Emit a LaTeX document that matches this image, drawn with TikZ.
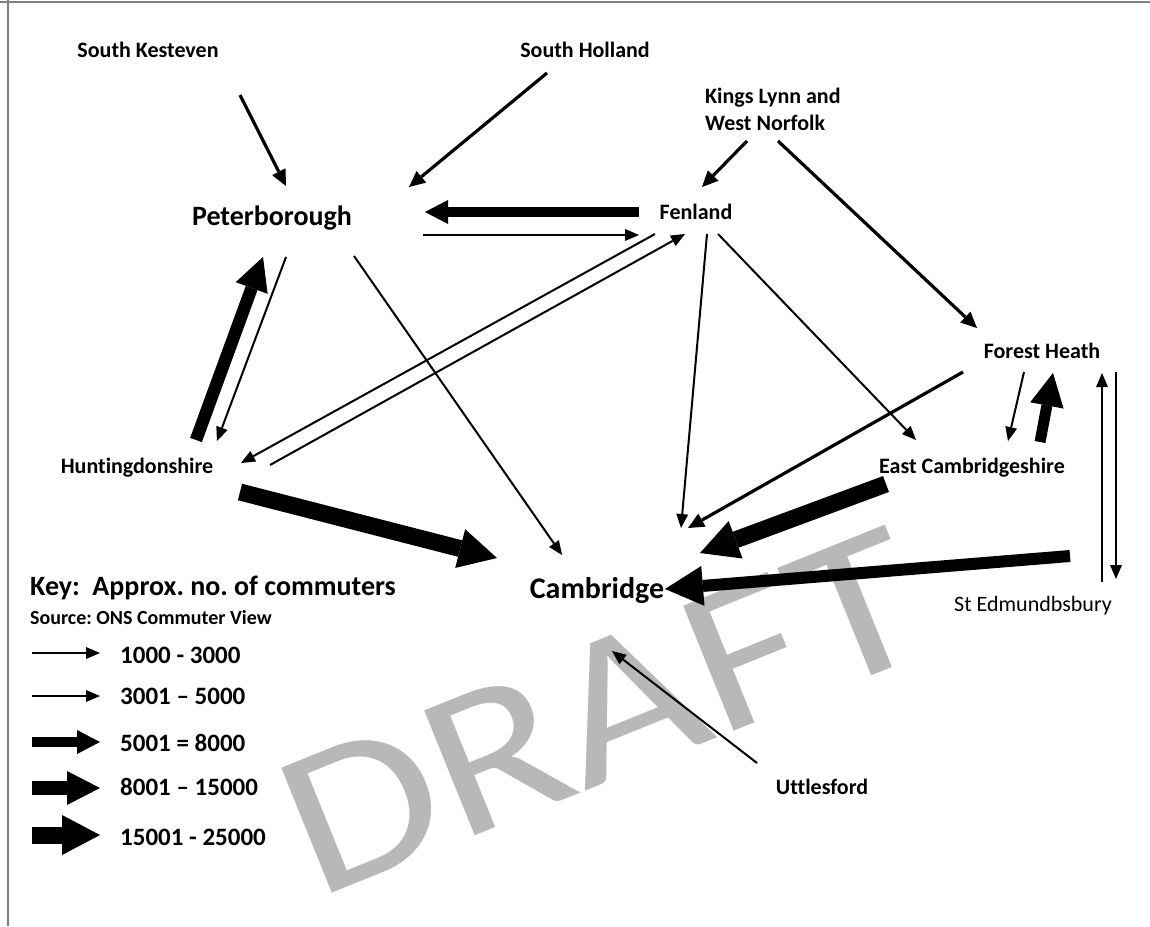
\documentclass[tikz,border=0pt]{standalone}
\usepackage{fontspec}
\setmainfont{Carlito}[Ligatures=NoCommon]
\usetikzlibrary{arrows.meta,calc}
\definecolor{framegray}{RGB}{128,128,128}
\definecolor{markgray}{RGB}{184,184,184}
\frenchspacing
\tikzset{
  place/.style={inner sep=0pt, anchor=base, font=\bfseries\fontsize{22}{27}\selectfont},
  town/.style={inner sep=0pt, anchor=base, font=\bfseries\fontsize{28}{33}\selectfont},
  keyhead/.style={inner sep=0pt, anchor=base west, font=\bfseries\fontsize{28}{33}\selectfont},
  keysrc/.style={inner sep=0pt, anchor=base west, font=\bfseries\fontsize{20}{24}\selectfont},
  keyrange/.style={inner sep=0pt, anchor=base west, font=\bfseries\fontsize{25}{30}\selectfont},
  % commuter flow bands
  flowA/.style={line width=2pt, -{Triangle[length=14pt,width=12pt,line width=0pt]}},
  flowB/.style={line width=3.2pt, -{Triangle[length=16pt,width=15pt,line width=0pt]}},
  flowC/.style={line width=9.5pt, -{Triangle[length=23pt,width=24pt,line width=0pt]}},
  flowD/.style={line width=14pt, -{Triangle[length=33pt,width=34pt,line width=0pt]}},
  flowE/.style={line width=17pt, -{Triangle[length=38pt,width=40pt,line width=0pt]}},
  draftmark/.style={inner sep=0pt, text=markgray, font=\fontsize{210}{250}\selectfont},
}
\begin{document}
\begin{tikzpicture}[x=1pt,y=-1pt]
\useasboundingbox (0,0) rectangle (1150,926);
\fill[white] (0,0) rectangle (1150,926);

% watermark
\node[draftmark, rotate=22, xscale=1.19, anchor=base west] (draft) at (316,900) {DRAFT};

% page frame
\draw[framegray, line width=2pt] (0,1.5) -- (1150,1.5);
\draw[framegray, line width=2pt] (8,0) -- (8,926);

% districts
\node[place] (sk) at (148,57) {South Kesteven};
\node[place] (sh) at (585,57) {South Holland};
\node[place, anchor=north west, align=left] (kl) at (705,88) {Kings Lynn and\\West Norfolk};
\node[town] (pet) at (272,225) {Peterborough};
\node[place] (fen) at (696,219) {Fenland};
\node[place] (fh) at (1042,358) {Forest Heath};
\node[place] (ec) at (972,473) {East Cambridgeshire};
\node[place] (hun) at (137,473) {Huntingdonshire};
\node[town, font=\bfseries\fontsize{30}{35}\selectfont] (cam) at (597,598) {Cambridge};
\node[place, font=\fontsize{22}{27}\selectfont] (ste) at (1033,611) {St Edmundbsbury};
\node[place] (utt) at (822,794) {Uttlesford};

% commuter flows
\draw[flowB] ($(sk.base)+(92,38)$) -- ($(pet.base)+(14,-39)$);
\draw[flowB] ($(sh.base)+(-38,16)$) -- ($(pet.base)+(137,-38)$);
\draw[flowC] ($(fen.base)+(-57,-7)$) -- ($(pet.base)+(153,-13)$);
\draw[flowA] ($(pet.base)+(151,10)$) -- ($(fen.base)+(-57,16)$);
\draw[flowB] ($(kl.north west)+(42,53)$) -- ($(fen.base)+(6,-32)$);
\draw[flowB] ($(kl.north west)+(73,53)$) -- ($(fh.base)+(-65,-30)$);
\draw[flowA] ($(fen.base)+(-41,15)$) -- ($(hun.base)+(104,-10)$);
\draw[flowA] ($(hun.base)+(133,-8)$) -- ($(fen.base)+(-11,15)$);
\draw[flowA] ($(pet.base)+(14,32)$) -- ($(hun.base)+(80,-32)$);
\draw[flowD, line width=12.5pt] ($(hun.base)+(59,-33)$) -- ($(pet.base)+(-9,32)$);
\draw[flowA] ($(pet.base)+(82,31)$) -- ($(cam.base)+(-35,-43)$);
\draw[flowE] ($(hun.base)+(103,19)$) -- ($(cam.base)+(-100,-40)$);
\draw[flowA] ($(fen.base)+(11,15)$) -- ($(cam.base)+(84,-70)$);
\draw[flowA] ($(fen.base)+(22,15)$) -- ($(ec.base)+(-56,-33)$);
\draw[flowB] ($(fh.base)+(-79,14)$) -- ($(cam.base)+(91,-70)$);
\draw[flowA] ($(fh.base)+(-18,14)$) -- ($(ec.base)+(36,-32)$);
\draw[flowD, line width=11pt] ($(ec.base)+(68,-31)$) -- ($(fh.base)+(11,15)$);
\draw[flowE] ($(ec.base)+(-86,11)$) -- ($(cam.base)+(103,-45)$);
\draw[flowE, line width=12pt] ($(ste.base)+(37,-55)$) -- ($(cam.base)+(68,-9)$);
\draw[flowA] ($(ste.base)+(69,-29)$) -- ($(fh.base)+(60,15)$);
\draw[flowA] ($(fh.base)+(74,14)$) -- ($(ste.base)+(83,-32)$);
\draw[flowA] ($(utt.base)+(-65,-31)$) -- ($(cam.base)+(15,53)$);

% key
\node[keyhead] (key) at (30,595) {Key:\ \ Approx. no. of commuters};
\node[keysrc] (src) at (30,624) {Source: ONS Commuter View};
\node[keyrange] (r1) at (120,663) {1000 - 3000};
\node[keyrange] (r2) at (120,704) {3001 – 5000};
\node[keyrange] (r3) at (120,751) {5001 = 8000};
\node[keyrange] (r4) at (120,795) {8001 – 15000};
\node[keyrange] (r5) at (120,845) {15001 - 25000};
\draw[flowA] ($(r1.base west)+(-88,-10)$) -- ($(r1.base west)+(-20,-10)$);
\draw[flowA, line width=2.6pt] ($(r2.base west)+(-88,-8)$) -- ($(r2.base west)+(-20,-8)$);
\draw[flowC] ($(r3.base west)+(-88,-9)$) -- ($(r3.base west)+(-20,-9)$);
\draw[flowD] ($(r4.base west)+(-88,-7)$) -- ($(r4.base west)+(-20,-7)$);
\draw[flowE] ($(r5.base west)+(-88,-10)$) -- ($(r5.base west)+(-20,-10)$);
\end{tikzpicture}
\end{document}
